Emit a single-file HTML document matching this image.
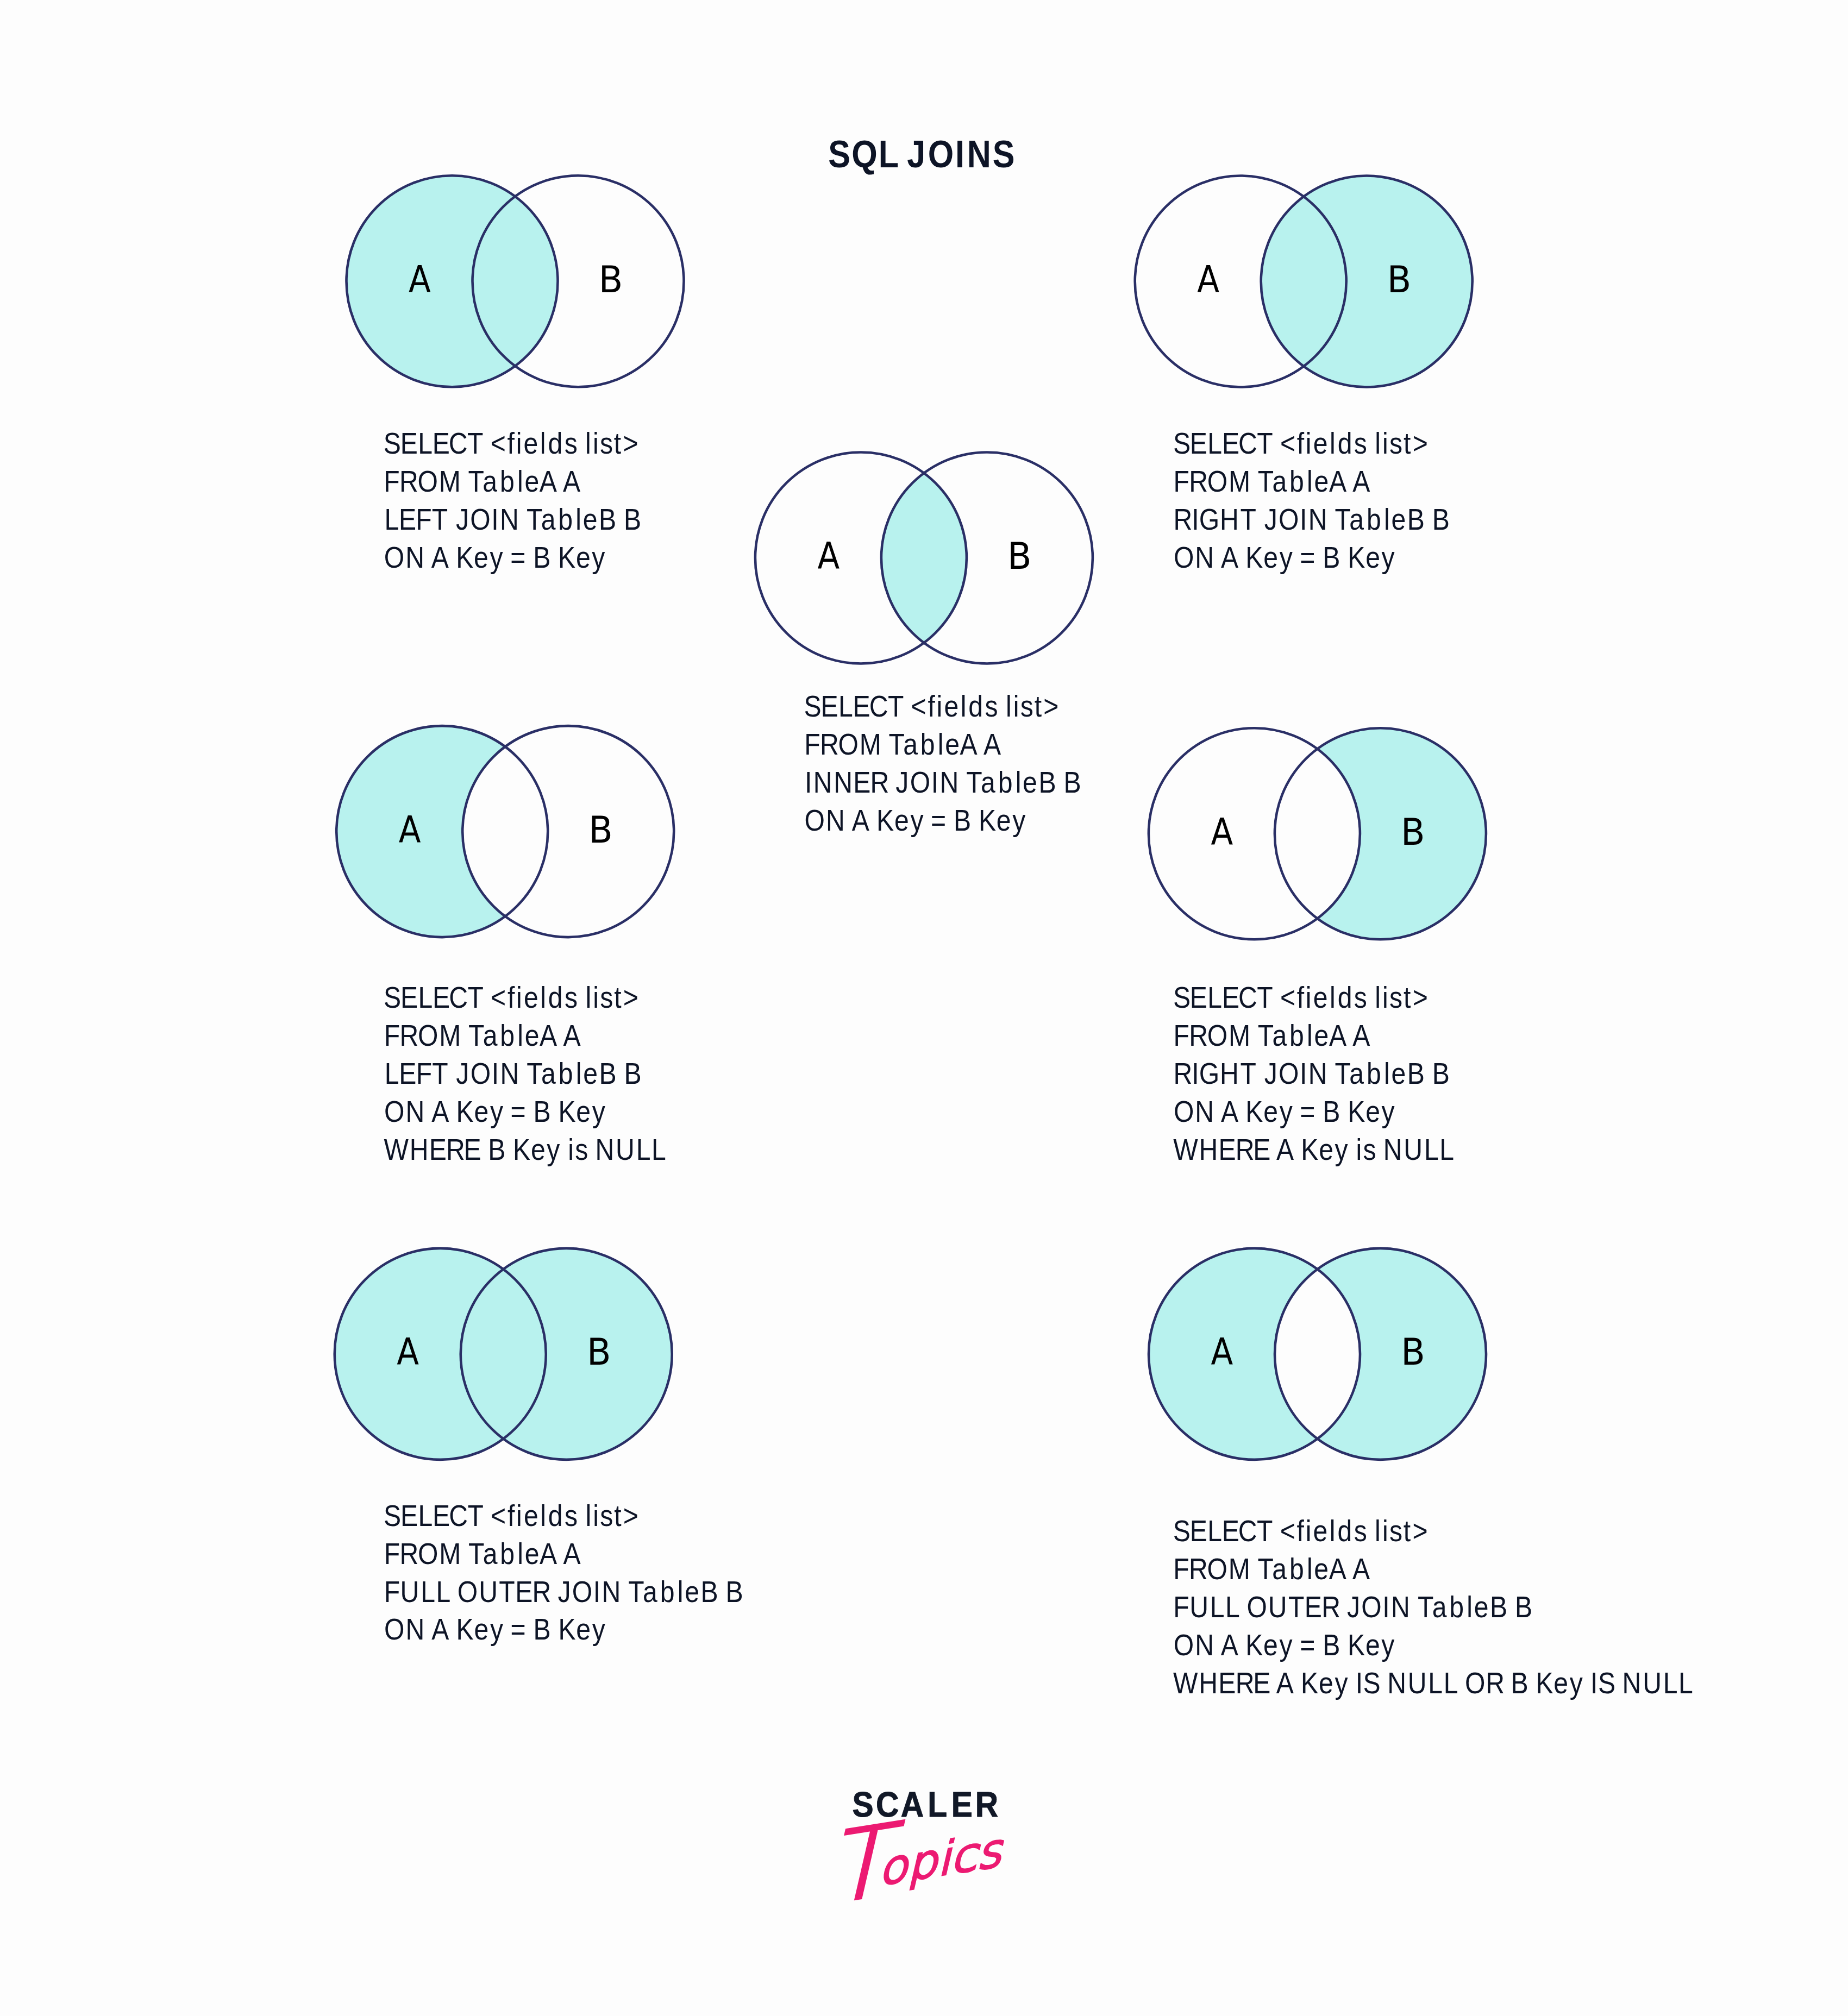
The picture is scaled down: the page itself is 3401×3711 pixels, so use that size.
<!DOCTYPE html>
<html lang="en"><head><meta charset="utf-8"><title>SQL Joins</title><style>
html,body{margin:0;padding:0;background:#fdfdfd;}
body{position:relative;width:3401px;height:3711px;overflow:hidden;}
svg{display:block;}
.ring{fill:none;stroke:#2a2f66;stroke-width:4.6px;}
.code{font-family:"Liberation Sans","Noto Sans CJK SC",sans-serif;font-size:55.3px;fill:#0d1426;font-variant-ligatures:none;}
.lab{font-family:"DejaVu Sans","Liberation Sans",sans-serif;font-size:66.9px;fill:#000;}
.title{font-family:"Liberation Sans","Noto Sans CJK SC",sans-serif;font-weight:700;font-size:71.0px;fill:#0d1426;}
.scaler{font-family:"Liberation Sans","Noto Sans CJK SC",sans-serif;font-weight:700;font-size:65.2px;fill:#111827;stroke:#111827;stroke-width:1.0px;}
#topics{position:absolute;left:1559.02px;top:3348.13px;margin:0;font-family:"DejaVu Sans","Liberation Sans",sans-serif;font-weight:200;font-size:80.94px;line-height:1;color:#ec1a72;-webkit-text-stroke:5px #ec1a72;white-space:nowrap;letter-spacing:0.74px;transform-origin:0 0;transform:rotate(-9.000deg) skewX(-22.000deg) scaleX(1.0696);}
#topics::first-letter{font-size:175.43px;-webkit-text-stroke-width:1.5px;letter-spacing:-21.77px;vertical-align:-19.06px;}
</style></head><body>
<svg width="3401" height="3711" viewBox="0 0 3401 3711">
<rect width="3401" height="3711" fill="#fdfdfd"/>
<defs>
<clipPath id="ca2"><circle cx="1584.4" cy="1027" r="194.5"/></clipPath>
<mask id="ma3"><rect width="3401" height="3711" fill="#fff"/><circle cx="1045.7" cy="1530.6" r="194.5" fill="#000"/></mask>
<mask id="mb4"><rect width="3401" height="3711" fill="#fff"/><circle cx="2308.4" cy="1534.7" r="194.5" fill="#000"/></mask>
<mask id="ma6"><rect width="3401" height="3711" fill="#fff"/><circle cx="2540.5" cy="2492.4" r="194.5" fill="#000"/></mask>
<mask id="mb6"><rect width="3401" height="3711" fill="#fff"/><circle cx="2308.5" cy="2492.4" r="194.5" fill="#000"/></mask>
</defs>
<g><circle cx="832" cy="517.7" r="194.5" fill="#b8f2ee"/><circle cx="832" cy="517.7" r="194.5" class="ring"/><circle cx="1064" cy="517.7" r="194.5" class="ring"/><text class="lab" transform="translate(752.06 537.7) scale(0.89 1)">A</text><text class="lab" transform="translate(1101.66 537.7) scale(0.97 1)">B</text></g>
<g><circle cx="2515.2" cy="518" r="194.5" fill="#b8f2ee"/><circle cx="2283.2" cy="518" r="194.5" class="ring"/><circle cx="2515.2" cy="518" r="194.5" class="ring"/><text class="lab" transform="translate(2203.26 538) scale(0.89 1)">A</text><text class="lab" transform="translate(2552.86 538) scale(0.97 1)">B</text></g>
<g><circle cx="1816.4" cy="1027" r="194.5" fill="#b8f2ee" clip-path="url(#ca2)"/><circle cx="1584.4" cy="1027" r="194.5" class="ring"/><circle cx="1816.4" cy="1027" r="194.5" class="ring"/><text class="lab" transform="translate(1504.46 1047) scale(0.89 1)">A</text><text class="lab" transform="translate(1854.06 1047) scale(0.97 1)">B</text></g>
<g><circle cx="813.7" cy="1530.6" r="194.5" fill="#b8f2ee" mask="url(#ma3)"/><circle cx="813.7" cy="1530.6" r="194.5" class="ring"/><circle cx="1045.7" cy="1530.6" r="194.5" class="ring"/><text class="lab" transform="translate(733.76 1550.6) scale(0.89 1)">A</text><text class="lab" transform="translate(1083.36 1550.6) scale(0.97 1)">B</text></g>
<g><circle cx="2540.4" cy="1534.7" r="194.5" fill="#b8f2ee" mask="url(#mb4)"/><circle cx="2308.4" cy="1534.7" r="194.5" class="ring"/><circle cx="2540.4" cy="1534.7" r="194.5" class="ring"/><text class="lab" transform="translate(2228.46 1554.7) scale(0.89 1)">A</text><text class="lab" transform="translate(2578.06 1554.7) scale(0.97 1)">B</text></g>
<g><circle cx="810.25" cy="2492.4" r="194.5" fill="#b8f2ee"/><circle cx="1042.25" cy="2492.4" r="194.5" fill="#b8f2ee"/><circle cx="810.25" cy="2492.4" r="194.5" class="ring"/><circle cx="1042.25" cy="2492.4" r="194.5" class="ring"/><text class="lab" transform="translate(730.31 2512.4) scale(0.89 1)">A</text><text class="lab" transform="translate(1079.91 2512.4) scale(0.97 1)">B</text></g>
<g><circle cx="2308.5" cy="2492.4" r="194.5" fill="#b8f2ee" mask="url(#ma6)"/><circle cx="2540.5" cy="2492.4" r="194.5" fill="#b8f2ee" mask="url(#mb6)"/><circle cx="2308.5" cy="2492.4" r="194.5" class="ring"/><circle cx="2540.5" cy="2492.4" r="194.5" class="ring"/><text class="lab" transform="translate(2228.56 2512.4) scale(0.89 1)">A</text><text class="lab" transform="translate(2578.16 2512.4) scale(0.97 1)">B</text></g>
<text class="code" transform="scale(0.87 1)" x="811.15 846.73 884.12 914.58 949.18 988.49 1022.83 1037.58 1073 1091.56 1107.54 1142.26 1159.13 1193.85 1220.94 1237.94 1253.94 1268.84 1298.59 1317.78" y="835">SELECT &lt;fields list&gt;</text>
<text class="code" transform="scale(0.87 1)" x="811.87 844.83 883.43 928.45 975.3 990.29 1020.99 1057.37 1094.13 1109.64 1141.06 1177.24 1190.93" y="904.93">FROM TableA A</text>
<text class="code" transform="scale(0.87 1)" x="813.09 843.55 879.72 913.51 947.85 964.34 994.62 1039.48 1057.55 1098.72 1113.71 1144.4 1180.79 1217.56 1233.05 1266.79 1303.61 1319.59" y="974.86">LEFT JOIN TableB B</text>
<text class="code" transform="scale(0.87 1)" x="812.29 857.64 898.81 912.5 948.68 964.56 1002.4 1036.21 1065.09 1079.48 1111.79 1127.78 1164.6 1180.48 1218.31 1252.11" y="1044.79">ON A Key = B Key</text>
<text class="code" transform="scale(0.87 1)" x="2481.5 2517.07 2554.46 2584.93 2619.53 2658.84 2693.18 2707.93 2743.34 2761.91 2777.88 2812.61 2829.48 2864.2 2891.29 2908.28 2924.29 2939.18 2968.94 2988.12" y="835">SELECT &lt;fields list&gt;</text>
<text class="code" transform="scale(0.87 1)" x="2482.22 2515.18 2553.78 2598.8 2645.64 2660.63 2691.33 2727.72 2764.47 2779.98 2811.4 2847.58 2861.28" y="904.93">FROM TableA A</text>
<text class="code" transform="scale(0.87 1)" x="2482.1 2521.06 2536.61 2580.53 2623.47 2657.81 2674.32 2704.6 2749.44 2767.52 2808.69 2823.68 2854.37 2890.76 2927.52 2943.03 2976.75 3013.57 3029.57" y="974.86">RIGHT JOIN TableB B</text>
<text class="code" transform="scale(0.87 1)" x="2482.63 2527.98 2569.15 2582.84 2619.03 2634.91 2672.74 2706.55 2735.44 2749.82 2782.13 2798.12 2834.94 2850.82 2888.66 2922.46" y="1044.79">ON A Key = B Key</text>
<text class="code" transform="scale(0.87 1)" x="1700.69 1736.27 1773.66 1804.12 1838.72 1878.03 1912.37 1927.12 1962.54 1981.1 1997.08 2031.8 2048.67 2083.39 2110.48 2127.48 2143.48 2158.38 2188.13 2207.32" y="1318.9">SELECT &lt;fields list&gt;</text>
<text class="code" transform="scale(0.87 1)" x="1701.42 1734.37 1772.97 1817.99 1864.84 1879.83 1910.53 1946.91 1983.67 1999.18 2030.6 2066.78 2080.47" y="1388.83">FROM TableA A</text>
<text class="code" transform="scale(0.87 1)" x="1702.2 1720.27 1763.61 1804.78 1840.84 1878.15 1894.64 1924.93 1969.78 1987.85 2029.02 2044.02 2074.7 2111.09 2147.86 2163.35 2197.09 2233.91 2249.9" y="1458.76">INNER JOIN TableB B</text>
<text class="code" transform="scale(0.87 1)" x="1701.83 1747.18 1788.35 1802.04 1838.22 1854.1 1891.94 1925.75 1954.63 1969.02 2001.33 2017.32 2054.14 2070.02 2107.85 2141.65" y="1528.69">ON A Key = B Key</text>
<text class="code" transform="scale(0.87 1)" x="811.61 847.19 884.57 915.04 949.64 988.95 1023.29 1038.04 1073.46 1092.02 1108 1142.72 1159.59 1194.31 1221.4 1238.4 1254.4 1269.3 1299.05 1318.24" y="1855">SELECT &lt;fields list&gt;</text>
<text class="code" transform="scale(0.87 1)" x="812.33 845.29 883.89 928.91 975.76 990.75 1021.45 1057.83 1094.59 1110.1 1141.52 1177.7 1191.39" y="1924.93">FROM TableA A</text>
<text class="code" transform="scale(0.87 1)" x="813.55 844.01 880.18 913.97 948.31 964.8 995.08 1039.94 1058.01 1099.17 1114.17 1144.86 1181.25 1218.02 1233.51 1267.25 1304.07 1320.05" y="1994.86">LEFT JOIN TableB B</text>
<text class="code" transform="scale(0.87 1)" x="812.75 858.1 899.27 912.96 949.14 965.02 1002.86 1036.67 1065.55 1079.94 1112.25 1128.24 1165.06 1180.94 1218.77 1252.57" y="2064.79">ON A Key = B Key</text>
<text class="code" transform="scale(0.87 1)" x="812.06 866.35 907.73 943.78 981.09 1016.4 1032.4 1069.2 1085.09 1122.92 1156.73 1185.61 1201.59 1216.49 1243.58 1259.18 1302.45 1345.65 1378.2" y="2134.72">WHERE B Key is NULL</text>
<text class="code" transform="scale(0.87 1)" x="2481.5 2517.07 2554.46 2584.93 2619.53 2658.84 2693.18 2707.93 2743.34 2761.91 2777.88 2812.61 2829.48 2864.2 2891.29 2908.28 2924.29 2939.18 2968.94 2988.12" y="1855">SELECT &lt;fields list&gt;</text>
<text class="code" transform="scale(0.87 1)" x="2482.22 2515.18 2553.78 2598.8 2645.64 2660.63 2691.33 2727.72 2764.47 2779.98 2811.4 2847.58 2861.28" y="1924.93">FROM TableA A</text>
<text class="code" transform="scale(0.87 1)" x="2482.1 2521.06 2536.61 2580.53 2623.47 2657.81 2674.32 2704.6 2749.44 2767.52 2808.69 2823.68 2854.37 2890.76 2927.52 2943.03 2976.75 3013.57 3029.57" y="1994.86">RIGHT JOIN TableB B</text>
<text class="code" transform="scale(0.87 1)" x="2482.63 2527.98 2569.15 2582.84 2619.03 2634.91 2672.74 2706.55 2735.44 2749.82 2782.13 2798.12 2834.94 2850.82 2888.66 2922.46" y="2064.79">ON A Key = B Key</text>
<text class="code" transform="scale(0.87 1)" x="2481.94 2536.23 2577.61 2613.66 2650.98 2686.28 2699.97 2736.16 2752.03 2789.87 2823.67 2852.57 2868.54 2883.43 2910.52 2926.12 2969.39 3012.61 3045.16" y="2134.72">WHERE A Key is NULL</text>
<text class="code" transform="scale(0.87 1)" x="811.61 847.19 884.57 915.04 949.64 988.95 1023.29 1038.04 1073.46 1092.02 1108 1142.72 1159.59 1194.31 1221.4 1238.4 1254.4 1269.3 1299.05 1318.24" y="2808.7">SELECT &lt;fields list&gt;</text>
<text class="code" transform="scale(0.87 1)" x="812.33 845.29 883.89 928.91 975.76 990.75 1021.45 1057.83 1094.59 1110.1 1141.52 1177.7 1191.39" y="2878.63">FROM TableA A</text>
<text class="code" transform="scale(0.87 1)" x="812.33 846.64 889.86 922.4 952.86 967.58 1012.86 1055.55 1089.89 1125.95 1163.26 1179.76 1210.04 1254.89 1272.97 1314.13 1329.12 1359.82 1396.21 1432.97 1448.47 1482.2 1519.02 1535.01" y="2948.56">FULL OUTER JOIN TableB B</text>
<text class="code" transform="scale(0.87 1)" x="812.75 858.1 899.27 912.96 949.14 965.02 1002.86 1036.67 1065.55 1079.94 1112.25 1128.24 1165.06 1180.94 1218.77 1252.57" y="3018.49">ON A Key = B Key</text>
<text class="code" transform="scale(0.87 1)" x="2481.27 2516.84 2554.23 2584.7 2619.3 2658.61 2692.95 2707.7 2743.11 2761.68 2777.65 2812.38 2829.25 2863.97 2891.06 2908.05 2924.06 2938.95 2968.71 2987.89" y="2837.5">SELECT &lt;fields list&gt;</text>
<text class="code" transform="scale(0.87 1)" x="2481.99 2514.95 2553.55 2598.57 2645.41 2660.4 2691.1 2727.49 2764.25 2779.75 2811.17 2847.35 2861.05" y="2907.43">FROM TableA A</text>
<text class="code" transform="scale(0.87 1)" x="2481.99 2516.3 2559.51 2592.06 2622.51 2637.23 2682.52 2725.21 2759.54 2795.6 2832.91 2849.42 2879.7 2924.54 2942.62 2983.79 2998.78 3029.48 3065.86 3102.62 3118.13 3151.85 3188.67 3204.67" y="2977.36">FULL OUTER JOIN TableB B</text>
<text class="code" transform="scale(0.87 1)" x="2482.4 2527.75 2568.92 2582.61 2618.8 2634.68 2672.51 2706.32 2735.21 2749.59 2781.9 2797.89 2834.71 2850.59 2888.43 2922.23" y="3047.29">ON A Key = B Key</text>
<text class="code" transform="scale(0.87 1)" x="2481.71 2536 2577.38 2613.43 2650.75 2686.05 2699.74 2735.93 2751.8 2789.64 2823.44 2852.34 2867.42 2883.47 2919.05 2934.64 2977.92 3021.13 3053.67 3084.13 3098.84 3142.79 3180.1 3196.09 3232.91 3248.79 3286.62 3320.43 3349.32 3364.41 3380.46 3416.03 3431.63 3474.9 3518.11 3550.66" y="3117.22">WHERE A Key IS NULL OR B Key IS NULL</text>
<text class="title" transform="scale(0.86 1)" x="1772.5 1822.43 1880.06 1923.44 1940.91 1985.74 2044.13 2069.38 2124.07" y="308.2">SQL JOINS</text>
<text class="scaler" transform="scale(0.9 1)" x="1742.76 1791.15 1841.97 1896.92 1945.23 1994.28" y="3344.5">SCALER</text>
</svg>
<div id="topics">Topics</div>
</body></html>
